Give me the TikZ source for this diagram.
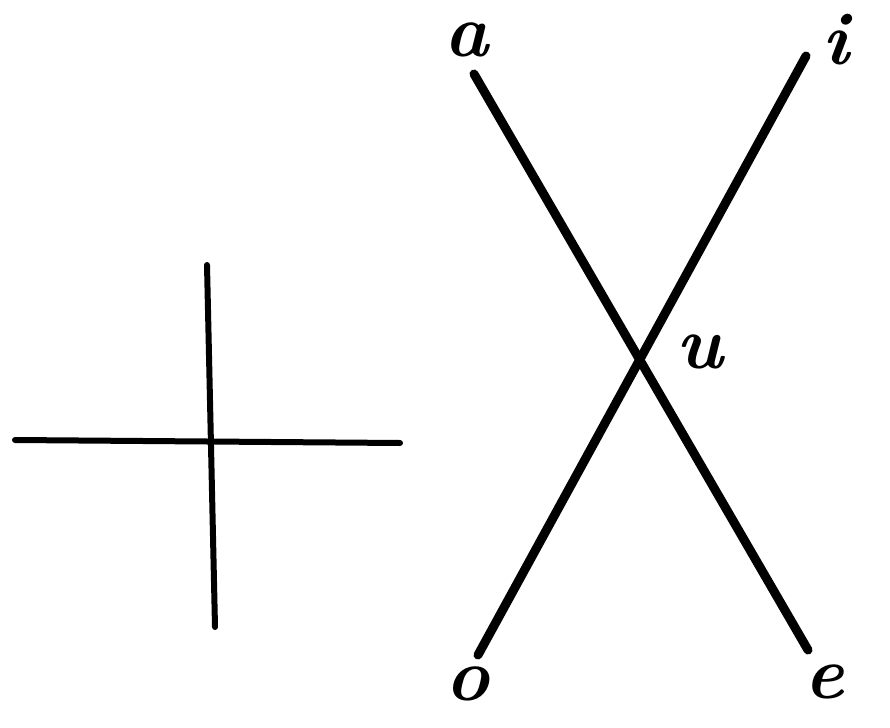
\documentclass[tikz,border=0pt]{standalone}
\begin{document}
\begin{tikzpicture}[x=1pt,y=-1pt,
  stroke/.style={line width=9pt,line cap=round,black},
  thin stroke/.style={line width=6pt,line cap=round,black},
  lbl/.style={font=\Huge\bfseries\itshape,scale=3,inner sep=0pt}]
\useasboundingbox (0,0) rectangle (890,727);
% cross
\coordinate (hl) at (15,440);
\coordinate (hr) at (400,443);
\coordinate (vt) at (207,265);
\coordinate (vb) at (215,627);
\draw[thin stroke] (hl) -- (hr);
\draw[thin stroke] (vt) -- (vb);
% X
\coordinate (pa) at (474,74);
\coordinate (pe) at (808,650);
\coordinate (pi) at (806,56);
\coordinate (po) at (478,655);
\draw[stroke] (pa) -- (pe);
\draw[stroke] (pi) -- (po);
\node[lbl] (a) at (467,40) {a};
\node[lbl] (i) at (836,40) {i};
\node[lbl] (u) at (700,352) {u};
\node[lbl] (o) at (468,684) {o};
\node[lbl] (e) at (824,682) {e};
\end{tikzpicture}
\end{document}
